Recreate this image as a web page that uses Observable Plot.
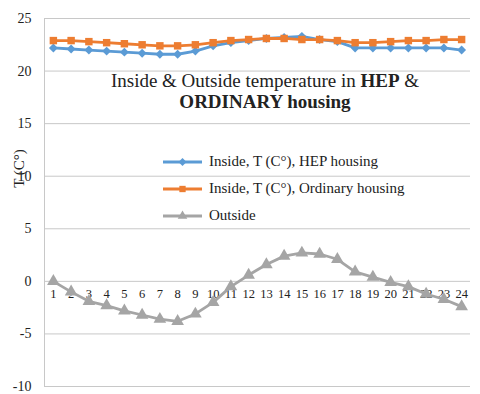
<!DOCTYPE html>
<html>
<head>
<meta charset="utf-8">
<script src="https://cdn.jsdelivr.net/npm/d3@7"></script>
<script src="https://cdn.jsdelivr.net/npm/@observablehq/plot@0.6"></script>
<style>
  body { margin: 0; background: #fff; }
  #wrap { position: relative; width: 480px; height: 394px; font-family: "Liberation Serif", "Times New Roman", serif; color: #222; }
  #title { position: absolute; left: 65px; width: 400px; text-align: center; top: 70px; font-size: 19px; line-height: 21px; white-space: nowrap; }
  #legend { position: absolute; left: 163px; top: 148px; font-size: 15px; }
  .row { display: flex; align-items: center; height: 27px; }
  .row svg { margin-right: 7px; }
  svg text { font-family: "Liberation Serif", "Times New Roman", serif; }
</style>
</head>
<body>
<div id="wrap">
  <div id="chart"></div>
  <div id="title">Inside &amp; Outside temperature in <b>HEP</b> &amp;<br><b>ORDINARY housing</b></div>
  <div id="legend"></div>
</div>
<script>
const hours = d3.range(1, 25);
const hepInside = [22.2, 22.1, 22.0, 21.9, 21.8, 21.7, 21.6, 21.6, 21.9, 22.4, 22.7, 22.9, 23.1, 23.2, 23.3, 23.0, 22.8, 22.2, 22.2, 22.2, 22.2, 22.2, 22.2, 22.0];
const ordinaryInside = [22.9, 22.9, 22.8, 22.7, 22.6, 22.5, 22.4, 22.4, 22.5, 22.7, 22.9, 23.0, 23.1, 23.1, 23.0, 23.0, 22.9, 22.7, 22.7, 22.8, 22.9, 22.9, 23.0, 23.0];
const outside = [0.0, -1.0, -1.9, -2.3, -2.8, -3.2, -3.6, -3.8, -3.1, -2.0, -0.5, 0.6, 1.6, 2.4, 2.7, 2.6, 2.1, 0.9, 0.4, -0.1, -0.5, -1.2, -1.7, -2.4];
const yTicks = [-10, -5, 0, 5, 10, 15, 20, 25];
const seriesNames = ["Inside, T (C°), HEP housing", "Inside, T (C°), Ordinary housing", "Outside"];
const colors = ["#5B9BD5", "#ED7D31", "#A5A5A5"];
const symbols = ["diamond2", "square", "triangle"];
const yLabel = "T (C°)";

const series = [hepInside, ordinaryInside, outside].map((vals, i) =>
  vals.map((v, j) => ({hour: hours[j], value: v, s: seriesNames[i]})));

const marks = [
  Plot.gridY(yTicks, {stroke: "#c8c8c8", strokeOpacity: 1, strokeWidth: 1}),
  Plot.frame({anchor: "left", stroke: "#c8c8c8"}),
  Plot.axisY(yTicks, {tickSize: 0, tickPadding: 13, fontSize: 14, fill: "#222", label: null, tickFormat: d => d}),
  Plot.text(hours, {x: d => d, y: 0, dy: 13, text: d => String(d), fontSize: 12.5, fill: "#222"}),
  Plot.text([yLabel], {frameAnchor: "left", textAnchor: "middle", dx: -25, dy: -34, rotate: -90, fontSize: 15, fill: "#222"})
];
series.forEach((data, i) => {
  marks.push(Plot.line(data, {x: "hour", y: "value", stroke: colors[i], strokeWidth: 2.8}));
  marks.push(Plot.dot(data, {x: "hour", y: "value", symbol: () => symbols[i], fill: colors[i], stroke: "none", r: i === 2 ? 4.7 : (i === 1 ? 4.2 : 4)}));
});

const chart = Plot.plot({
  width: 480,
  height: 394,
  marginLeft: 44,
  marginRight: 10,
  marginTop: 18,
  marginBottom: 8,
  style: {fontFamily: "'Liberation Serif', 'Times New Roman', serif", background: "white"},
  x: {type: "linear", domain: [0.5, 24.5], axis: null},
  y: {domain: [-10, 25], axis: null},
  symbol: {type: "identity"},
  marks
});
document.getElementById("chart").appendChild(chart);

// legend
const legend = d3.select("#legend");
seriesNames.forEach((name, i) => {
  const row = legend.append("div").attr("class", "row");
  const sv = row.append("svg").attr("width", 39).attr("height", 12);
  sv.append("line").attr("x1", 0).attr("x2", 39).attr("y1", 6).attr("y2", 6).attr("stroke", colors[i]).attr("stroke-width", 2.8);
  const sym = {diamond2: d3.symbolDiamond2, square: d3.symbolSquare, triangle: d3.symbolTriangle}[symbols[i]];
  sv.append("path").attr("d", d3.symbol(sym, 40)).attr("transform", "translate(19.5,6)").attr("fill", colors[i]);
  row.append("span").text(name);
});
</script>
</body>
</html>
